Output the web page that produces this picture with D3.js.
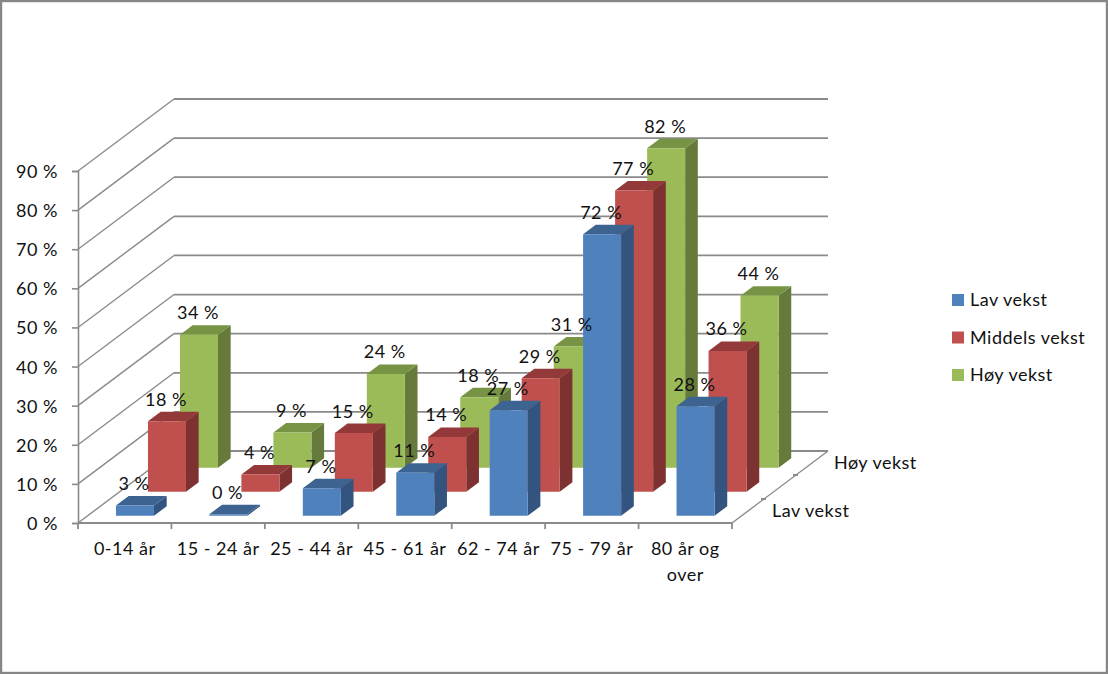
<!DOCTYPE html>
<html><head><meta charset="utf-8">
<style>html,body{margin:0;padding:0;background:#fff}svg{display:block}text{font-family:Lato,"Open Sans",sans-serif;fill:#111;font-size:18px;letter-spacing:0.5px}</style>
<script src="https://cdn.jsdelivr.net/npm/d3@7"></script></head><body>
<script>
const categories = ["0-14 år","15 - 24 år","25 - 44 år","45 - 61 år","62 - 74 år","75 - 79 år","80 år og|over"];
const seriesNames = ["Lav vekst","Middels vekst","Høy vekst"];
const lavVekst = [2.6,0.4,7,11,27,72,28];
const middelsVekst = [18,4.4,15,14,29,77,36];
const hoyVekst = [34,9,24,18,31,81.7,44];
const valueLabels = [[3,0,7,11,27,72,28],[18,4,15,14,29,77,36],[34,9,24,18,31,82,44]];
const yTicks = [0,10,20,30,40,50,60,70,80,90];
const depthLabels = ["Lav vekst","Høy vekst"];
const faceColors = [
 {front:"#4F81BD",top:"#3D6491",side:"#33547E"},
 {front:"#C0504D",top:"#93393A",side:"#7D3231"},
 {front:"#9BBB59",top:"#779445",side:"#667A3B"}];
const allValues=[lavVekst,middelsVekst,hoyVekst];

const W=1108,H=674,gridCol="#8a8a8a";
const svg=d3.select("body").append("svg").attr("width",W).attr("height",H);
svg.append("rect").attr("x",1).attr("y",1).attr("width",W-2).attr("height",H-2).attr("fill","#fff").attr("stroke","#868686").attr("stroke-width",2.4);

const x=d3.scaleBand().domain(categories).range([78.6,732.6]).paddingInner(0.593).paddingOuter(0.2965);
const xStep=d3.scaleBand().domain(categories).range([78,732]);
const y=d3.scaleLinear().domain([0,90]).range([523,171]);
const z=d3.scaleBand().domain(seriesNames).range([0,1]).paddingInner(0.604).paddingOuter(0.302);
const DX=96,DY=72;
const P=(px,v,zz)=>[px+zz*DX,y(v)-zz*DY];
const path=pts=>"M"+pts.map(p=>p.join(",")).join("L")+"Z";
const line=(g,a,b,w=1.6)=>g.append("line").attr("x1",a[0]).attr("y1",a[1]).attr("x2",b[0]).attr("y2",b[1]).attr("stroke",gridCol).attr("stroke-width",w);

// walls
const grid=svg.append("g");
yTicks.forEach(t=>{
  line(grid,[78,y(t)],P(78,t,1),1.4);
  line(grid,P(78,t,1),P(732,t,1),1.8);
});
// floor edges
line(grid,[732,523],P(732,0,1),1.4);
[1/3,2/3].forEach(f=>{const p=P(732,0,f);line(grid,[p[0]-3,p[1]],[p[0]+2,p[1]],2)});

// y axis
const ya=svg.append("g").attr("transform","translate(78,0)")
  .call(d3.axisLeft(y).tickValues(yTicks).tickSize(6).tickPadding(14).tickFormat(d=>d+" %"));
ya.selectAll("path,line").attr("stroke",gridCol).attr("stroke-width",1.6);
ya.selectAll("text").attr("dy","0.36em").style("font-size","18px").style("font-family","Lato");

// x axis
const xa=svg.append("g");
line(xa,[78,523],[732,523],1.8);
categories.concat("end").forEach((c,i)=>{
  const xx=i<categories.length?xStep(c):732;
  line(xa,[xx,523],[xx,529],1.8);
});
categories.forEach(c=>{
  const t=xa.append("text").attr("text-anchor","middle").attr("x",xStep(c)+xStep.bandwidth()/2).attr("y",555);
  c.split("|").forEach((s,i)=>t.append("tspan").attr("x",xStep(c)+xStep.bandwidth()/2).attr("dy",i?26:0).text(s));
});

// depth labels
svg.append("text").attr("x",772).attr("y",517).text(depthLabels[0]);
svg.append("text").attr("x",834).attr("y",469).text(depthLabels[1]);

// bars, back series first
const bars=svg.append("g"), labels=svg.append("g");
[2,1,0].forEach(si=>{
  const name=seriesNames[si],col=faceColors[si];
  const z0=z(name),z1=z0+z.bandwidth();
  const g=bars.append("g");
  allValues[si].forEach((v,ci)=>{
    const c=categories[ci],x0=x(c),x1=x0+x.bandwidth();
    g.append("path").attr("fill",col.side).attr("d",path([P(x1,0,z0),P(x1,v,z0),P(x1,v,z1),P(x1,0,z1)]));
    g.append("path").attr("fill",col.top).attr("d",path([P(x0,v,z0),P(x1,v,z0),P(x1,v,z1),P(x0,v,z1)]));
    g.append("path").attr("fill",col.front).attr("d",path([P(x0,0,z0),P(x1,0,z0),P(x1,v,z0),P(x0,v,z0)]));
    const p=P((x0+x1)/2,v,z0);
    labels.append("text").attr("text-anchor","middle").attr("x",p[0]-1).attr("y",p[1]-15.5).text(valueLabels[si][ci]+" %");
  });
});

// legend
const lg=svg.append("g");
seriesNames.forEach((n,i)=>{
  const yy=d3.scaleLinear().domain([0,2]).range([300,375])(i);
  lg.append("rect").attr("x",952).attr("y",yy-6).attr("width",12).attr("height",12).attr("fill",faceColors[i].front);
  lg.append("text").attr("x",970).attr("y",yy+6).text(n);
});
</script></body></html>
